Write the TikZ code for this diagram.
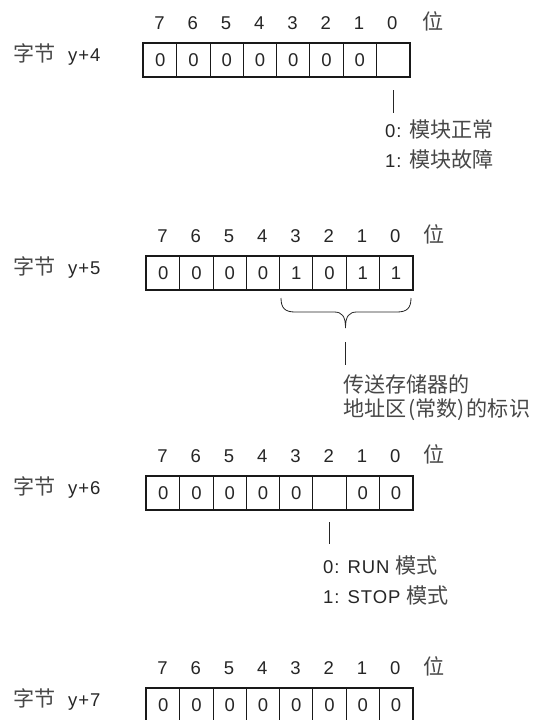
\documentclass[tikz,border=0pt]{standalone}
\usepackage{fontspec}
\setmainfont{Liberation Sans}[LetterSpace=5]
\newfontfamily\cjk[Scale=1.14]{Noto Sans CJK SC}
\newcommand\zh[1]{{\cjk\color{black!72}#1}}
\usetikzlibrary{positioning}

\tikzset{
  bitcell/.style={draw=black!90, line width=1.2pt, minimum width=33.25pt, minimum height=33pt, inner sep=0pt, anchor=north west},
  bitnum/.style={anchor=base, inner sep=0pt},
  rowlab/.style={anchor=base west, inner sep=0pt},
  note/.style={anchor=base west, inner sep=0pt},
  frame/.style={draw=black!90, line width=1.7pt},
  leader/.style={line width=0.8pt, black!85},
}

\begin{document}
\begin{tikzpicture}[x=1pt, y=-1pt, font=\fontsize{18.5}{22}\selectfont, text=black!85]
  \useasboundingbox (0,0) rectangle (538,720);

  % byte y+4
  \node[rowlab] (zj4) at (13,61) {\zh{字节}};
  \node[rowlab] (y4) at (68,61) {y+4};
  \foreach \v [count=\k from 0] in {0,0,0,0,0,0,0,{}} {
    \pgfmathtruncatemacro\b{7-\k}
    \node[bitcell] (c4-\b) at ({143+\k*33.25},43) {\v};
    \node[bitnum] (b4-\b) at ({159.6+\k*33.25},29) {\b};
  }
  \node[bitnum] (w4) at (433,29) {\zh{位}};
  \draw[frame] (c4-7.north west) rectangle (c4-0.south east);
  \coordinate (t4) at ([yshift=-36pt]c4-0.south);
  \draw[leader] ([yshift=-13pt]c4-0.south) -- (t4);
  \node[note] (n4a) at (385,137) {0: \zh{模块正常}};
  \node[note] (n4b) at (385,167) {1: \zh{模块故障}};

  % byte y+5
  \node[rowlab] (zj5) at (13,274) {\zh{字节}};
  \node[rowlab] (y5) at (68,274) {y+5};
  \foreach \v [count=\k from 0] in {0,0,0,0,1,0,1,1} {
    \pgfmathtruncatemacro\b{7-\k}
    \node[bitcell] (c5-\b) at ({146+\k*33.25},256) {\v};
    \node[bitnum] (b5-\b) at ({162.6+\k*33.25},242) {\b};
  }
  \node[bitnum] (w5) at (434,242) {\zh{位}};
  \draw[frame] (c5-7.north west) rectangle (c5-0.south east);
  \draw[line width=0.8pt, black!85] (281,298) .. controls (281,308) and (285,312) .. (295,312) -- (334,312)
    .. controls (342,312) and (345.5,316) .. (345.5,328)
    .. controls (345.5,316) and (349,312) .. (357,312) -- (397,312)
    .. controls (407,312) and (411,308) .. (411,298);
  \coordinate (br5) at (345.5,328);
  \coordinate (t5) at ([yshift=-37pt]br5);
  \draw[leader] ([yshift=-14pt]br5) -- (t5);
  \node[note] (n5a) at (343,392) {\zh{传送存储器的}};
  \node[note] (n5b) at (343,416) {\zh{地址区\kern2pt(常数)\kern2pt的标识}};

  % byte y+6
  \node[rowlab] (zj6) at (13,494) {\zh{字节}};
  \node[rowlab] (y6) at (68,494) {y+6};
  \foreach \v [count=\k from 0] in {0,0,0,0,0,{},0,0} {
    \pgfmathtruncatemacro\b{7-\k}
    \node[bitcell] (c6-\b) at ({146+\k*33.25},476) {\v};
    \node[bitnum] (b6-\b) at ({162.6+\k*33.25},462) {\b};
  }
  \node[bitnum] (w6) at (434,462) {\zh{位}};
  \draw[frame] (c6-7.north west) rectangle (c6-0.south east);
  \coordinate (t6) at ([yshift=-34pt]c6-2.south);
  \draw[leader] ([yshift=-12pt]c6-2.south) -- (t6);
  \node[note] (n6a) at (323,573) {0: RUN \zh{模式}};
  \node[note] (n6b) at (323,603) {1: STOP \zh{模式}};

  % byte y+7
  \node[rowlab] (zj7) at (13,706) {\zh{字节}};
  \node[rowlab] (y7) at (68,706) {y+7};
  \foreach \v [count=\k from 0] in {0,0,0,0,0,0,0,0} {
    \pgfmathtruncatemacro\b{7-\k}
    \node[bitcell] (c7-\b) at ({146+\k*33.25},688) {\v};
    \node[bitnum] (b7-\b) at ({162.6+\k*33.25},674) {\b};
  }
  \node[bitnum] (w7) at (434,674) {\zh{位}};
  \draw[frame] (c7-7.north west) rectangle (c7-0.south east);
\end{tikzpicture}
\end{document}
